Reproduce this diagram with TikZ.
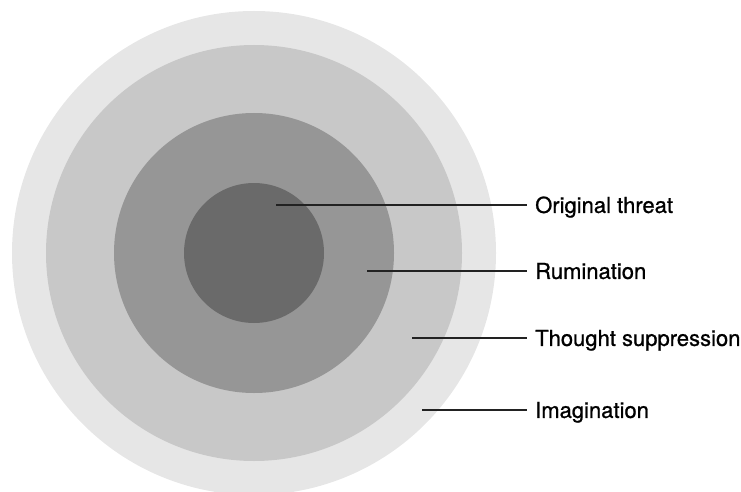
\documentclass[tikz,border=0pt]{standalone}
\usepackage{fontspec}
\setmainfont[FakeBold=0.9]{TeX Gyre Heros}
\usepackage{tikz}
\usetikzlibrary{calc}
\usepackage{xcolor}
\definecolor{ringA}{HTML}{E6E6E6}
\definecolor{ringB}{HTML}{C8C8C8}
\definecolor{ringC}{HTML}{969696}
\definecolor{ringD}{HTML}{6A6A6A}
\definecolor{leadgray}{HTML}{222222}
\tikzset{
  ring/.style={circle, draw=none, inner sep=0pt},
  leader/.style={line width=1.4pt, draw=leadgray},
  label/.style={anchor=west, inner xsep=8pt, inner ysep=0pt, text height=15.8pt, text depth=0pt,
    font=\fontsize{22}{26}\selectfont, text=black},
}

\begin{document}
\begin{tikzpicture}[x=1pt, y=-1pt]
  \useasboundingbox (0,0) rectangle (741,492);
  % nested rings, common centre
  \node[ring, fill=ringA, minimum size=484pt] (imag) at (254,253) {};
  \node[ring, fill=ringB, minimum size=416pt] (supp) at (254,253) {};
  \node[ring, fill=ringC, minimum size=280pt] (rumi) at (254,253) {};
  \node[ring, fill=ringD, minimum size=140pt] (threat) at (254,253) {};
  % labels
  \node[label] (l-threat) at (527,205) {Original threat};
  \node[label] (l-rumi) at (527,271) {Rumination};
  \node[label] (l-supp) at (527,338) {Thought suppression};
  \node[label] (l-imag) at (527,410) {Imagination};
  % leader starts inside each ring
  \coordinate (p-threat) at ($(threat.center)+(22,-48)$);
  \coordinate (p-rumi) at ($(rumi.center)+(113,18)$);
  \coordinate (p-supp) at ($(supp.center)+(158,85)$);
  \coordinate (p-imag) at ($(imag.center)+(168,157)$);
  \draw[leader] (p-threat) -- (l-threat.west);
  \draw[leader] (p-rumi) -- (l-rumi.west);
  \draw[leader] (p-supp) -- (l-supp.west);
  \draw[leader] (p-imag) -- (l-imag.west);
\end{tikzpicture}
\end{document}
